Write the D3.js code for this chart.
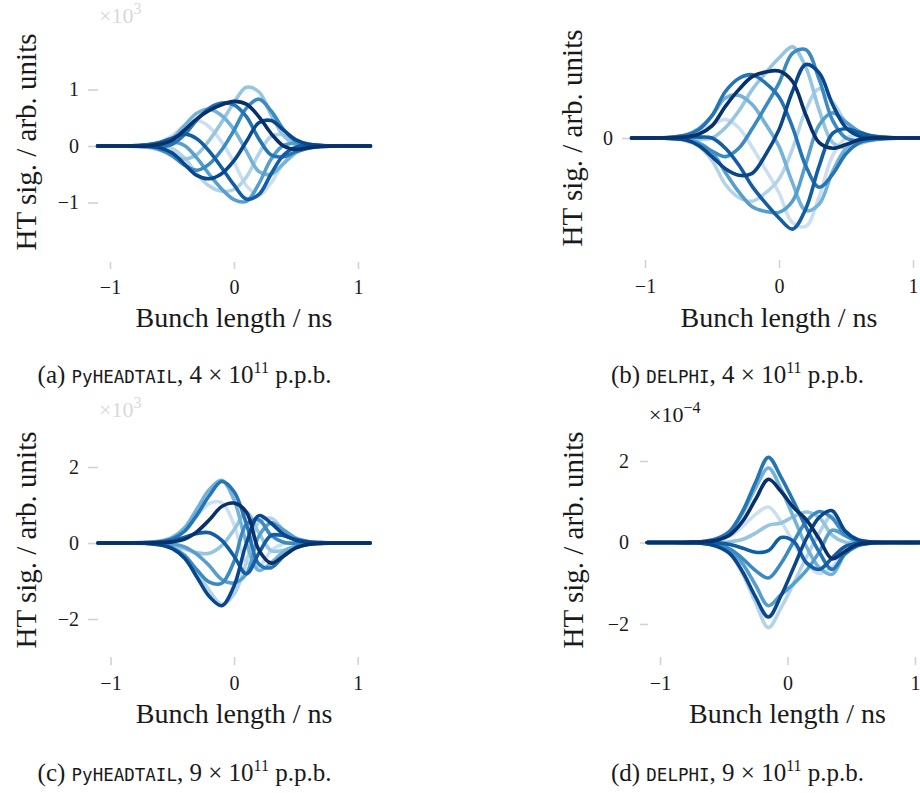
<!DOCTYPE html>
<html><head><meta charset="utf-8">
<script src="https://cdn.jsdelivr.net/npm/d3@7"></script>
<style>body{margin:0;background:#fff} svg{display:block}</style>
</head><body>
<svg id="chart" width="920" height="793"></svg>
<script>
// ---------------- data ----------------
const xTicks = [-1, 0, 1];
const xGridABC = [-1.1,-0.9,-0.7,-0.6,-0.5,-0.4,-0.3,-0.2,-0.1,0,0.1,0.2,0.3,0.4,0.5,0.6,0.7,0.9,1.1];
const xGridD   = [-1.1,-0.9,-0.75,-0.65,-0.55,-0.45,-0.35,-0.25,-0.15,-0.05,0.05,0.15,0.25,0.35,0.45,0.55,0.65,0.85,1.1];

// (a) PyHEADTAIL 4e11, units of 10^3, light -> dark
const curvesA = [
 [0,0, 0.01,0.06,0.18,0.36,0.45,0.34,0.07,-0.29,-0.70,-0.87,-0.65,-0.30,-0.09,-0.02,0, 0,0],
 [0,0, 0.01,0.01,-0.04,-0.21,-0.49,-0.71,-0.80,-0.77,-0.55,-0.14,0.17,0.20,0.10,0.04,0.01, 0,0],
 [0,0, -0.02,-0.07,-0.16,-0.23,-0.15,0.10,0.42,0.77,1.04,0.96,0.55,0.18,0.02,-0.01,-0.01, 0,0],
 [0,0, 0.00,0.03,0.13,0.36,0.58,0.65,0.54,0.29,-0.09,-0.45,-0.50,-0.31,-0.12,-0.03,-0.01, 0,0],
 [0,0, 0.02,0.05,0.07,0.01,-0.21,-0.50,-0.76,-0.95,-0.98,-0.67,-0.23,0.01,0.05,0.03,0.01, 0,0],
 [0,0, -0.01,-0.06,-0.17,-0.34,-0.43,-0.32,-0.07,0.28,0.67,0.83,0.62,0.29,0.08,0.02,0, 0,0],
 [0,0, -0.01,-0.01,0.03,0.20,0.46,0.67,0.76,0.73,0.52,0.13,-0.16,-0.19,-0.10,-0.04,-0.01, 0,0],
 [0,0, 0.02,0.06,0.14,0.21,0.13,-0.09,-0.38,-0.69,-0.94,-0.86,-0.49,-0.16,-0.02,0.01,0.01, 0,0],
 [0,0, 0,-0.03,-0.12,-0.32,-0.52,-0.58,-0.49,-0.26,0.08,0.41,0.45,0.28,0.11,0.03,0.01, 0,0],
 [0,0, 0,0.03,0.10,0.28,0.48,0.63,0.73,0.79,0.74,0.52,0.22,0.00,-0.06,-0.03,-0.01, 0,0]
];
// (b) DELPHI 4e11, arbitrary units
const curvesB = [
 [0,0, 0.02,0.07,0.14,0.20,0.11,-0.10,-0.34,-0.59,-0.91,-0.95,-0.63,-0.19,0,0.03,0.02, 0,0],
 [0,0, -0.03,-0.09,-0.24,-0.50,-0.64,-0.68,-0.59,-0.44,-0.12,0.30,0.53,0.39,0.17,0.05,0.01, 0,0],
 [0,0, -0.01,-0.01,0,0.11,0.29,0.52,0.70,0.86,0.98,0.76,0.30,-0.05,-0.10,-0.06,-0.02, 0,0],
 [0,0, 0.03,0.10,0.24,0.43,0.46,0.36,0.15,-0.09,-0.48,-0.78,-0.71,-0.36,-0.11,-0.01,0.01, 0,0],
 [0,0, -0.01,-0.05,-0.15,-0.37,-0.58,-0.74,-0.79,-0.80,-0.68,-0.28,0.14,0.27,0.17,0.07,0.02, 0,0],
 [0,0, -0.02,-0.07,-0.14,-0.20,-0.11,0.10,0.34,0.59,0.91,0.95,0.63,0.19,0,-0.03,-0.02, 0,0],
 [0,0, 0.03,0.09,0.24,0.50,0.64,0.68,0.59,0.44,0.12,-0.30,-0.53,-0.39,-0.17,-0.05,-0.01, 0,0],
 [0,0, 0.01,0.01,0,-0.11,-0.29,-0.52,-0.70,-0.86,-0.98,-0.76,-0.30,0.05,0.10,0.06,0.02, 0,0],
 [0,0, -0.02,-0.08,-0.20,-0.33,-0.40,-0.38,-0.18,0.09,0.50,0.79,0.70,0.36,0.11,0.02,0, 0,0],
 [0,0, 0.01,0.04,0.13,0.34,0.52,0.66,0.71,0.72,0.61,0.25,-0.05,-0.11,-0.07,-0.02,0, 0,0]
];
// (c) PyHEADTAIL 9e11, units of 10^3
const curvesC = [
 [0,0, 0.01,0.04,0.13,0.34,0.71,1.04,1.06,0.48,-0.50,-0.61,-0.20,-0.02,0.01,0.01,0, 0,0],
 [0,0, -0.01,-0.03,-0.11,-0.31,-0.74,-1.25,-1.62,-1.35,-0.50,0.55,0.65,0.35,0.12,0.03,0.01, 0,0],
 [0,0, -0.01,-0.02,-0.06,-0.15,-0.26,-0.27,-0.07,0.35,0.81,0.27,-0.20,-0.19,-0.09,-0.03,-0.01, 0,0],
 [0,0, 0.01,0.05,0.15,0.40,0.90,1.41,1.65,1.13,0,-0.72,-0.52,-0.23,-0.07,-0.02,0, 0,0],
 [0,0, 0,-0.01,-0.03,-0.10,-0.30,-0.60,-0.96,-1.05,-0.81,0.18,0.53,0.34,0.13,0.04,0.01, 0,0],
 [0,0, -0.01,-0.04,-0.13,-0.34,-0.71,-1.03,-1.06,-0.48,0.50,0.61,0.20,0.02,-0.01,-0.01,0, 0,0],
 [0,0, 0.01,0.03,0.11,0.31,0.74,1.25,1.62,1.35,0.50,-0.55,-0.65,-0.35,-0.12,-0.03,-0.01, 0,0],
 [0,0, 0.01,0.02,0.06,0.15,0.25,0.27,0.07,-0.35,-0.81,-0.27,0.20,0.19,0.09,0.03,0.01, 0,0],
 [0,0, -0.01,-0.05,-0.15,-0.40,-0.90,-1.41,-1.65,-1.13,0,0.72,0.52,0.23,0.07,0.02,0, 0,0],
 [0,0, 0,0.01,0.03,0.10,0.30,0.61,0.96,1.05,0.81,-0.18,-0.53,-0.34,-0.13,-0.04,-0.01, 0,0]
];
// (d) DELPHI 9e11, units of 10^-4
const curvesD = [
 [0,0, 0.01,0.02,0.06,0.16,0.40,0.69,0.87,0.51,-0.02,-0.53,-0.76,-0.60,-0.19,-0.04,-0.01, 0,0],
 [0,0, -0.01,-0.03,-0.10,-0.29,-0.78,-1.48,-2.09,-1.60,-0.99,-0.35,0.24,0.66,0.28,0.08,0.02, 0,0],
 [0,0, 0,0,0,0.02,0.08,0.23,0.42,0.48,0.64,0.75,0.61,0.18,0.01,0,0, 0,0],
 [0,0, 0.01,0.03,0.10,0.28,0.73,1.34,1.83,1.31,0.60,-0.11,-0.62,-0.78,-0.29,-0.07,-0.02, 0,0],
 [0,0, -0.01,-0.02,-0.06,-0.19,-0.53,-1.05,-1.55,-1.28,-1.01,-0.68,-0.23,0.30,0.17,0.05,0.01, 0,0],
 [0,0, -0.01,-0.02,-0.06,-0.16,-0.40,-0.69,-0.87,-0.51,0.03,0.53,0.76,0.60,0.19,0.04,0.01, 0,0],
 [0,0, 0.01,0.03,0.10,0.29,0.78,1.48,2.09,1.60,0.99,0.35,-0.24,-0.66,-0.28,-0.08,-0.02, 0,0],
 [0,0, 0,0,-0.01,-0.05,-0.14,-0.24,-0.20,0.12,0.02,-0.50,-0.66,-0.38,-0.10,-0.02,0, 0,0],
 [0,0, -0.01,-0.03,-0.10,-0.28,-0.73,-1.34,-1.83,-1.30,-0.60,0.11,0.62,0.78,0.29,0.07,0.02, 0,0],
 [0,0, 0.01,0.02,0.06,0.19,0.53,1.06,1.55,1.25,0.85,0.55,0.08,-0.40,-0.22,-0.05,-0.01, 0,0]
];

const yTicksA = [-1, 0, 1];
const yTicksB = [0];
const yTicksC = [-2, 0, 2];
const yTicksD = [-2, 0, 2];

const yLabelText = "HT sig. / arb. units";
const xLabelText = "Bunch length / ns";
const captionA = [["(a) ","serif"],["PyHEADTAIL","mono"],[", 4 \u00d7 10","serif"],["11","sup"],[" p.p.b.","serif"]];
const captionB = [["(b) ","serif"],["DELPHI","mono"],[", 4 \u00d7 10","serif"],["11","sup"],[" p.p.b.","serif"]];
const captionC = [["(c) ","serif"],["PyHEADTAIL","mono"],[", 9 \u00d7 10","serif"],["11","sup"],[" p.p.b.","serif"]];
const captionD = [["(d) ","serif"],["DELPHI","mono"],[", 9 \u00d7 10","serif"],["11","sup"],[" p.p.b.","serif"]];
const multA = ["\u00d710", "3"];
const multC = ["\u00d710", "3"];
const multD = ["\u00d710", "\u22124"];

// ---------------- drawing ----------------
const SERIF = "'Liberation Serif','DejaVu Serif',serif";
const MONO = "'DejaVu Sans Mono',monospace";
const TXT = "#1a1a1a";
const TICK = "#d2d2d2";
const shades = d3.range(10).map(k => d3.interpolateBlues(0.22 + 0.78 * k / 9));

const svg = d3.select("#chart");
svg.append("rect").attr("width", 920).attr("height", 793).attr("fill", "#fff");

const panels = [
  {xs:xGridABC, curves:curvesA, yTicks:yTicksA, xRange:[110,358], yDom:[-1,1], yRange:[202.5,89.5],
   yAxisX:98, ySize:10, yPad:9, xAxisY:262, xSize:7, yLab:[26,142], xLabY:327, mult:multA, multPos:[99,23], multColor:"#d9d9d9",
   caption:captionA, capPos:[184.5,383]},
  {xs:xGridABC, curves:curvesB, yTicks:yTicksB, xRange:[645,913], yDom:[-1,1], yRange:[231,45],
   yAxisX:630, ySize:8, yPad:9, xAxisY:260, xSize:8, yLab:[572,138], xLabY:327, mult:null,
   caption:captionB, capPos:[737.5,383]},
  {xs:xGridABC, curves:curvesC, yTicks:yTicksC, xRange:[110.5,357.7], yDom:[-2,2], yRange:[619,467],
   yAxisX:98, ySize:10, yPad:9, xAxisY:657, xSize:8, yLab:[26,540], xLabY:723, mult:multC, multPos:[99,417], multColor:"#d9d9d9",
   caption:captionC, capPos:[184.5,781]},
  {xs:xGridD, curves:curvesD, yTicks:yTicksD, xRange:[660,915], yDom:[-2,2], yRange:[624,461],
   yAxisX:648, ySize:8, yPad:11, xAxisY:657, xSize:8, yLab:[573,540], xLabY:723, mult:multD, multPos:[649,422], multColor:TXT,
   caption:captionD, capPos:[737.5,781]}
];

panels.forEach(p => {
  const g = svg.append("g");
  const x = d3.scaleLinear().domain([-1,1]).range(p.xRange);
  const y = d3.scaleLinear().domain(p.yDom).range(p.yRange);

  // y axis
  const ya = g.append("g").attr("transform", `translate(${p.yAxisX},0)`)
    .call(d3.axisLeft(y).tickValues(p.yTicks).tickSize(p.ySize).tickPadding(p.yPad).tickFormat(d3.format("d")));
  ya.select(".domain").remove();
  ya.selectAll("line").attr("stroke", TICK).attr("stroke-width", 1.6);
  ya.selectAll("text").attr("font-family", SERIF).attr("font-size", 20).attr("fill", TXT);

  // x axis
  const xa = g.append("g").attr("transform", `translate(0,${p.xAxisY})`)
    .call(d3.axisBottom(x).tickValues(xTicks).tickSize(p.xSize).tickPadding(11).tickFormat(d3.format("d")));
  xa.select(".domain").remove();
  xa.selectAll("line").attr("stroke", TICK).attr("stroke-width", 1.6);
  xa.selectAll("text").attr("font-family", SERIF).attr("font-size", 20).attr("fill", TXT);

  // curves
  const line = d3.line().x((d,i) => x(p.xs[i])).y(d => y(d)).curve(d3.curveCatmullRom.alpha(0.5));
  g.append("g").selectAll("path").data(p.curves).join("path")
    .attr("d", line).attr("fill", "none")
    .attr("stroke", (d,i) => shades[i]).attr("stroke-width", 3.6)
    .attr("stroke-linejoin", "round").attr("stroke-linecap", "round");

  // axis labels
  g.append("text").attr("transform", `translate(${p.yLab[0]},${p.yLab[1]}) rotate(-90)`)
    .attr("text-anchor", "middle").attr("dominant-baseline", "central")
    .attr("font-family", SERIF).attr("font-size", 29).attr("fill", TXT).text(yLabelText);
  g.append("text").attr("x", x(0)).attr("y", p.xLabY)
    .attr("text-anchor", "middle")
    .attr("font-family", SERIF).attr("font-size", 28).attr("fill", TXT).text(xLabelText);

  // multiplier
  if (p.mult) {
    const t = g.append("text").attr("x", p.multPos[0]).attr("y", p.multPos[1])
      .attr("font-family", SERIF).attr("font-size", 22).attr("fill", p.multColor);
    t.append("tspan").text(p.mult[0]);
    t.append("tspan").attr("dy", -9).attr("font-size", 16).text(p.mult[1]);
  }

  // caption
  const c = g.append("text").attr("x", p.capPos[0]).attr("y", p.capPos[1])
    .attr("text-anchor", "middle").attr("font-family", SERIF).attr("font-size", 25).attr("fill", TXT);
  let shifted = false;
  p.caption.forEach(([t, kind]) => {
    const ts = c.append("tspan").text(t);
    if (kind === "mono") { ts.attr("font-family", MONO).attr("font-size", 17.5); }
    if (kind === "sup") { ts.attr("font-size", 16).attr("dy", -10); shifted = true; }
    else if (shifted) { ts.attr("dy", 10); shifted = false; }
  });
});
</script>
</body></html>
